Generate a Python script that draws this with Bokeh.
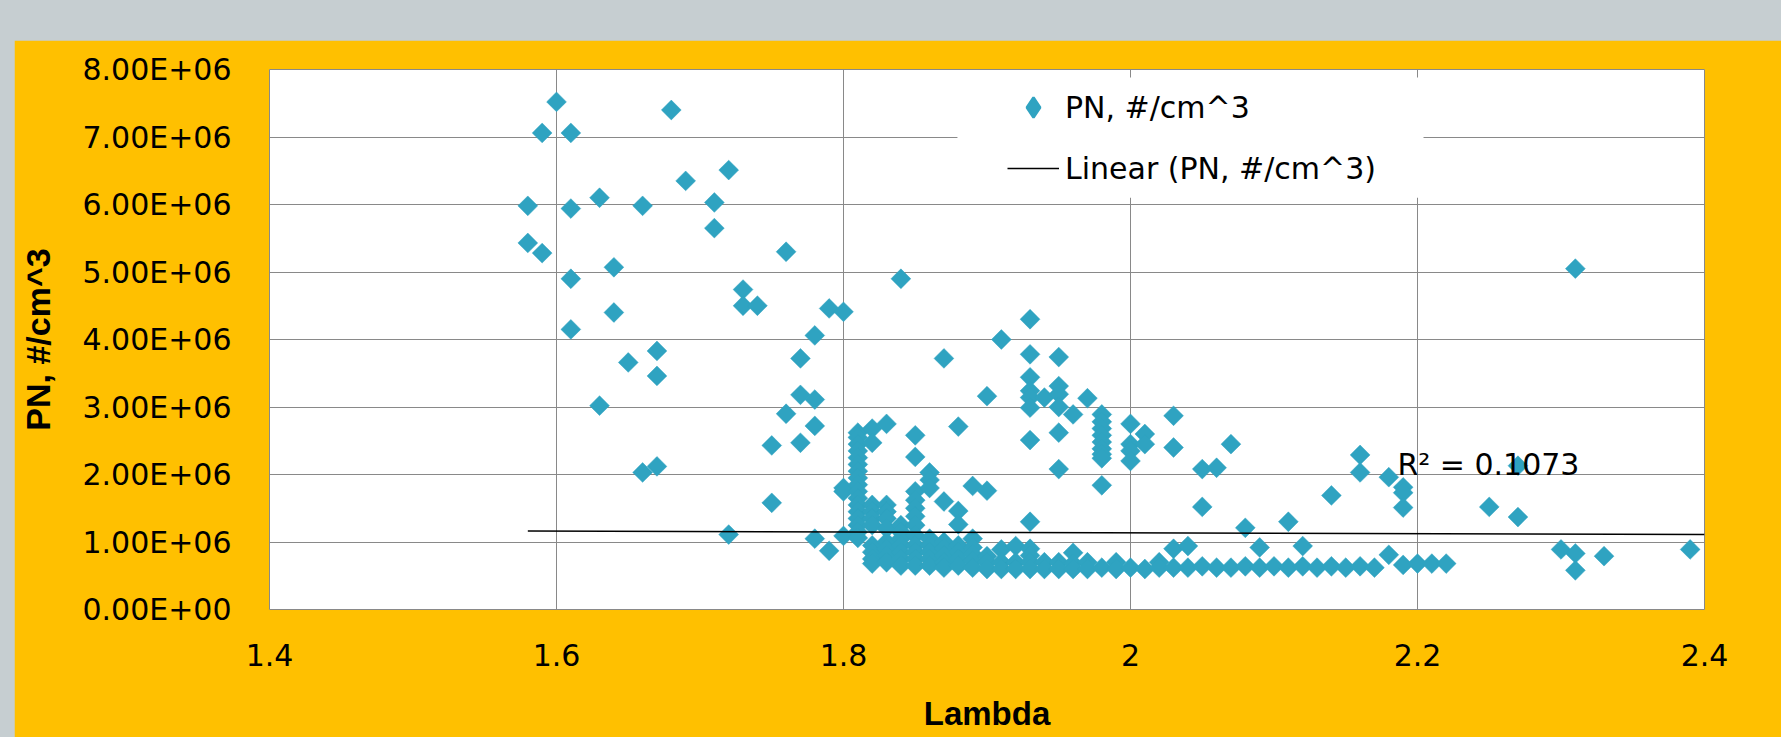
from bokeh.plotting import figure
from bokeh.models import (Range1d, FixedTicker, Legend, LegendItem, BoxAnnotation,
                          Label, Spacer)
from bokeh.layouts import column, row
from bokeh.embed import file_html
from bokeh.resources import INLINE

# ---------------- data ----------------
lambda_vals = [
    1.58, 1.58,
    1.59, 1.59,
    1.60,
    1.61, 1.61, 1.61, 1.61,
    1.63, 1.63,
    1.64, 1.64,
    1.65,
    1.66, 1.66,
    1.67, 1.67, 1.67,
    1.68,
    1.69,
    1.71, 1.71,
    1.72, 1.72,
    1.73, 1.73,
    1.74,
    1.75, 1.75,
    1.76, 1.76,
    1.77, 1.77, 1.77,
    1.78, 1.78, 1.78, 1.78,
    1.79, 1.79,
    1.80, 1.80, 1.80, 1.80,
    1.81, 1.81, 1.81, 1.81, 1.81, 1.81, 1.81, 1.81, 1.81, 1.81, 1.81, 1.81, 1.81, 1.81, 1.81, 1.81, 1.81,
    1.82, 1.82, 1.82, 1.82, 1.82, 1.82, 1.82, 1.82, 1.82, 1.82,
    1.83, 1.83, 1.83, 1.83, 1.83, 1.83, 1.83, 1.83, 1.83,
    1.84, 1.84, 1.84, 1.84, 1.84, 1.84, 1.84, 1.84,
    1.85, 1.85, 1.85, 1.85, 1.85, 1.85, 1.85, 1.85, 1.85, 1.85, 1.85, 1.85,
    1.86, 1.86, 1.86, 1.86, 1.86, 1.86, 1.86, 1.86,
    1.87, 1.87, 1.87, 1.87, 1.87, 1.87, 1.87,
    1.88, 1.88, 1.88, 1.88, 1.88, 1.88, 1.88,
    1.89, 1.89, 1.89, 1.89, 1.89, 1.89,
    1.90, 1.90, 1.90, 1.90, 1.90,
    1.91, 1.91, 1.91, 1.91,
    1.92, 1.92, 1.92,
    1.93, 1.93, 1.93, 1.93, 1.93, 1.93, 1.93, 1.93, 1.93, 1.93, 1.93, 1.93,
    1.94, 1.94, 1.94,
    1.95, 1.95, 1.95, 1.95, 1.95, 1.95, 1.95, 1.95,
    1.96, 1.96, 1.96, 1.96,
    1.97, 1.97, 1.97,
    1.98, 1.98, 1.98, 1.98, 1.98, 1.98, 1.98, 1.98, 1.98, 1.98,
    1.99, 1.99,
    2.00, 2.00, 2.00, 2.00, 2.00,
    2.01, 2.01, 2.01,
    2.02, 2.02,
    2.03, 2.03, 2.03, 2.03,
    2.04, 2.04,
    2.05, 2.05, 2.05,
    2.06, 2.06,
    2.07, 2.07,
    2.08, 2.08,
    2.09, 2.09,
    2.10,
    2.11, 2.11,
    2.12, 2.12,
    2.13,
    2.14, 2.14,
    2.15,
    2.16, 2.16, 2.16,
    2.17,
    2.18, 2.18,
    2.19, 2.19, 2.19, 2.19,
    2.20,
    2.21,
    2.22,
    2.25,
    2.27, 2.27,
    2.30,
    2.31, 2.31, 2.31,
    2.33,
    2.39,
]

pn_vals = [
    5.98e6, 5.43e6,
    7.06e6, 5.28e6,
    7.52e6,
    7.06e6, 5.94e6, 4.90e6, 4.15e6,
    6.10e6, 3.02e6,
    5.07e6, 4.40e6,
    3.66e6,
    5.98e6, 2.03e6,
    3.83e6, 3.46e6, 2.12e6,
    7.40e6,
    6.35e6,
    6.03e6, 5.65e6,
    6.51e6, 1.11e6,
    4.74e6, 4.50e6,
    4.50e6,
    2.43e6, 1.58e6,
    5.30e6, 2.90e6,
    3.72e6, 3.18e6, 2.47e6,
    4.06e6, 3.11e6, 2.72e6, 1.05e6,
    4.46e6, 0.87e6,
    4.41e6, 1.80e6, 1.75e6, 1.09e6,
    2.62e6, 2.55e6, 2.45e6, 2.35e6, 2.25e6, 2.15e6, 2.05e6, 1.95e6, 1.85e6, 1.75e6, 1.65e6, 1.55e6, 1.45e6, 1.35e6, 1.25e6, 1.15e6, 1.06e6,
    2.68e6, 2.47e6, 1.55e6, 1.45e6, 1.35e6, 1.25e6, 0.95e6, 0.85e6, 0.75e6, 0.68e6,
    2.75e6, 1.55e6, 1.45e6, 1.35e6, 1.20e6, 1.00e6, 0.90e6, 0.80e6, 0.70e6,
    4.90e6, 1.25e6, 1.15e6, 1.05e6, 0.95e6, 0.85e6, 0.75e6, 0.65e6,
    2.58e6, 2.26e6, 1.75e6, 1.62e6, 1.50e6, 1.38e6, 1.25e6, 1.10e6, 0.95e6, 0.85e6, 0.75e6, 0.65e6,
    2.03e6, 1.92e6, 1.80e6, 1.05e6, 0.95e6, 0.85e6, 0.75e6, 0.65e6,
    3.72e6, 1.60e6, 1.00e6, 0.90e6, 0.80e6, 0.70e6, 0.62e6,
    2.71e6, 1.46e6, 1.26e6, 0.95e6, 0.85e6, 0.75e6, 0.65e6,
    1.83e6, 1.05e6, 0.92e6, 0.82e6, 0.72e6, 0.62e6,
    3.16e6, 1.76e6, 0.79e6, 0.70e6, 0.60e6,
    4.00e6, 0.89e6, 0.70e6, 0.60e6,
    0.94e6, 0.70e6, 0.60e6,
    4.30e6, 3.78e6, 3.44e6, 3.24e6, 3.14e6, 2.99e6, 2.51e6, 1.30e6, 0.90e6, 0.80e6, 0.70e6, 0.60e6,
    3.14e6, 0.70e6, 0.60e6,
    3.74e6, 3.31e6, 3.19e6, 3.00e6, 2.62e6, 2.08e6, 0.70e6, 0.60e6,
    2.89e6, 0.84e6, 0.68e6, 0.60e6,
    3.13e6, 0.70e6, 0.60e6,
    2.89e6, 2.78e6, 2.68e6, 2.58e6, 2.48e6, 2.38e6, 2.30e6, 2.24e6, 1.84e6, 0.62e6,
    0.70e6, 0.60e6,
    2.75e6, 2.45e6, 2.35e6, 2.20e6, 0.62e6,
    2.60e6, 2.45e6, 0.60e6,
    0.70e6, 0.62e6,
    2.87e6, 2.40e6, 0.90e6, 0.62e6,
    0.94e6, 0.62e6,
    2.08e6, 1.52e6, 0.64e6,
    2.10e6, 0.62e6,
    2.45e6, 0.62e6,
    1.21e6, 0.64e6,
    0.92e6, 0.62e6,
    0.64e6,
    1.30e6, 0.62e6,
    0.94e6, 0.64e6,
    0.62e6,
    1.69e6, 0.64e6,
    0.62e6,
    2.29e6, 2.03e6, 0.64e6,
    0.62e6,
    1.96e6, 0.81e6,
    1.81e6, 1.73e6, 1.51e6, 0.66e6,
    0.68e6,
    0.68e6,
    0.68e6,
    1.52e6,
    2.13e6, 1.37e6,
    0.89e6,
    5.05e6, 0.83e6, 0.58e6,
    0.79e6,
    0.89e6,
]

assert len(lambda_vals) == len(pn_vals)

# Excel linear trendline as drawn in the reference
trend_lambda = [1.58, 2.40]
trend_pn = [1.163e6, 1.112e6]
r_squared_text = "R² = 0.1073"

x_ticks = [1.4, 1.6, 1.8, 2.0, 2.2, 2.4]
x_tick_labels = ["1.4", "1.6", "1.8", "2", "2.2", "2.4"]
y_ticks = [0, 1e6, 2e6, 3e6, 4e6, 5e6, 6e6, 7e6, 8e6]
y_tick_labels = ["0.00E+00", "1.00E+06", "2.00E+06", "3.00E+06", "4.00E+06",
                 "5.00E+06", "6.00E+06", "7.00E+06", "8.00E+06"]

# ---------------- styles ----------------
ORANGE = "#FFC000"
GREY_BG = "#C6CED1"
GRID = "#898989"
MARKER = "#2FA3C1"
FONT = "DejaVu Sans"
BOLD_FONT = "Liberation Sans"

p = figure(frame_width=1435, frame_height=540,
           x_range=Range1d(1.4, 2.4), y_range=Range1d(0, 8e6),
           output_backend="svg", toolbar_location=None,
           min_border_left=255, min_border_right=77,
           min_border_top=29, min_border_bottom=128,
           background_fill_color="white", border_fill_color=ORANGE,
           outline_line_color=GRID, outline_line_width=1)

for ax in (p.xaxis[0], p.yaxis[0]):
    ax.axis_line_color = None
    ax.major_tick_line_color = None
    ax.minor_tick_line_color = None
    ax.major_tick_out = 0
    ax.major_tick_in = 0
    ax.major_label_text_font = FONT
    ax.major_label_text_font_size = "30px"
    ax.major_label_text_color = "black"
    ax.axis_label_text_font = BOLD_FONT
    ax.axis_label_text_font_style = "bold"
    ax.axis_label_text_color = "black"

p.xaxis.axis_label_text_font_size = "33px"
p.yaxis.axis_label_text_font_size = "34px"
p.xaxis.ticker = FixedTicker(ticks=x_ticks)
p.xaxis.major_label_overrides = dict(zip(x_ticks, x_tick_labels))
p.yaxis.ticker = FixedTicker(ticks=y_ticks)
p.yaxis.major_label_overrides = dict(zip(y_ticks, y_tick_labels))
p.xaxis.axis_label = "Lambda"
p.yaxis.axis_label = "PN, #/cm^3"
p.xaxis.major_label_standoff = 34
p.xaxis.axis_label_standoff = 26
p.yaxis.major_label_standoff = 38
p.yaxis.axis_label_standoff = 22

p.xgrid.grid_line_color = GRID
p.ygrid.grid_line_color = GRID
p.xgrid.grid_line_width = 1
p.ygrid.grid_line_width = 1

sc = p.scatter(lambda_vals, pn_vals, marker="square", size=14, angle=0.785398,
               fill_color=MARKER, line_color=MARKER, line_width=0.5)
ln = p.line(trend_lambda, trend_pn, line_color="black", line_width=1.5)
# legend swatch for the markers (legend glyphs are never rotated, so use a
# diamond); it holds no visible point in the plot itself
legend_marker = p.scatter([float("nan")], [float("nan")], marker="diamond",
                          fill_color=MARKER, line_color=MARKER, line_width=2.5)

# white legend box (covers grid lines as in the reference)
box = BoxAnnotation(left=1.8794, right=2.2042, top=7.88e6, bottom=6.10e6,
                    fill_color="white", fill_alpha=1.0, line_color=None)
p.add_layout(box)

legend = Legend(items=[LegendItem(label="PN, #/cm^3", renderers=[legend_marker], index=0),
                       LegendItem(label="Linear (PN, #/cm^3)", renderers=[ln])],
                location=(738, 416), orientation="vertical",
                background_fill_alpha=0, border_line_color=None,
                padding=0, margin=0, spacing=11,
                glyph_width=52, glyph_height=50, label_height=50,
                label_standoff=6, label_text_font=FONT,
                label_text_font_size="30px", label_text_color="black")
p.add_layout(legend)

r2 = Label(x=2.186, y=2.15e6, text=r_squared_text, text_font=FONT,
           text_font_size="30px", text_baseline="middle", text_align="left",
           text_color="black")
p.add_layout(r2)

layout = column(Spacer(width=1781, height=40),
                row(Spacer(width=14, height=697), p))

html = file_html(layout, INLINE)
html = html.replace("</head>", "<style>body{background-color:%s;}</style></head>" % GREY_BG, 1)
open("out.html", "w").write(html)
